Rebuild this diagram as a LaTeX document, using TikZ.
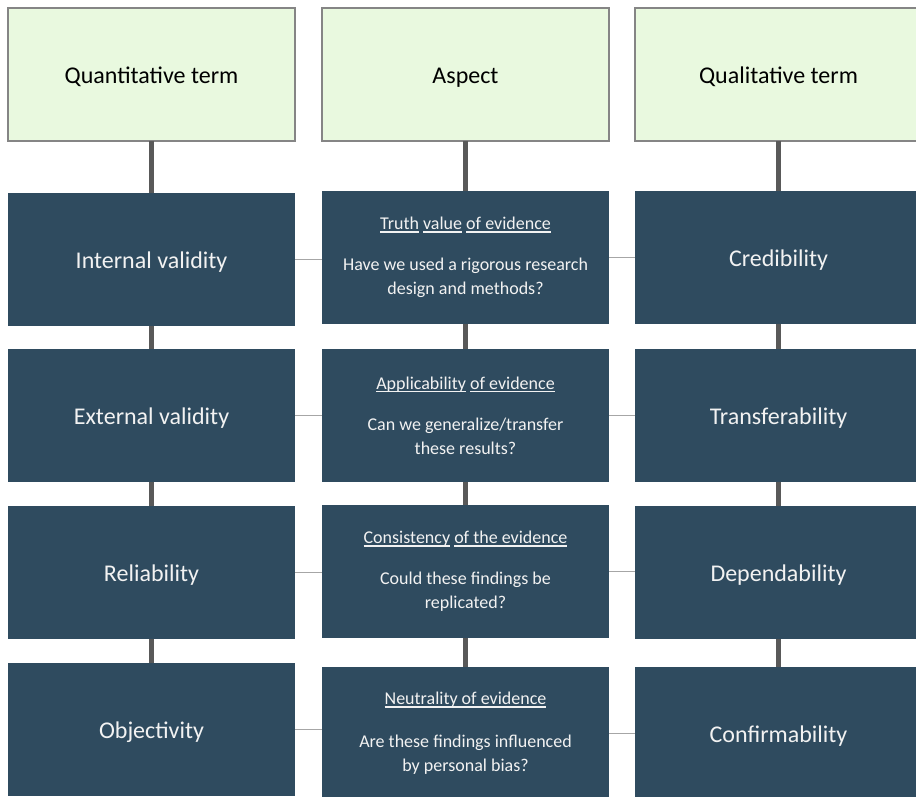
\documentclass[tikz,border=0pt]{standalone}
\usepackage{fontspec}
\setmainfont{Carlito}

\definecolor{headfill}{HTML}{E9F9DF}
\definecolor{headborder}{HTML}{858585}
\definecolor{boxblue}{HTML}{2F4B5F}
\definecolor{boxtext}{HTML}{F2F2F2}
\definecolor{stemgray}{HTML}{595959}
\definecolor{linkgray}{HTML}{A6A6A6}

% underline with a fixed offset, independent of descenders
\newcommand{\ulword}[1]{\setbox0\hbox{#1}\rlap{\rule[-2.8pt]{\wd0}{1.2pt}}\box0\relax}

\tikzset{
  cell/.style={minimum width=287pt, minimum height=133pt,
    inner sep=0pt, outer sep=0pt},
  headbox/.style={cell, draw=headborder, line width=2pt, fill=headfill,
    font=\fontsize{24}{29}\selectfont, text=black,
    text height=18pt, text depth=0pt},
  termbox/.style={cell, fill=boxblue,
    font=\fontsize{24}{29}\selectfont, text=boxtext,
    text height=18pt, text depth=0pt},
  aspectbox/.style={cell, fill=boxblue, text=boxtext,
    font=\fontsize{18}{24}\selectfont, align=center},
  stem/.style={draw=stemgray, line width=5pt},
  link/.style={draw=linkgray, line width=1.5pt},
}

\begin{document}
\begin{tikzpicture}[x=1pt, y=-1pt]
\useasboundingbox (0,0) rectangle (916,796);
\clip (0,0) rectangle (916,796);

% column headers
\node[headbox] (hq) at (151.5,74.5) {Quantitative term};
\node[headbox] (ha) at (465.5,74.5) {Aspect};
\node[headbox] (hc) at (778.5,74.5) {Qualitative term};

% quantitative terms
\node[termbox] (q1) at (151.5,259.5) {Internal validity};
\node[termbox] (q2) at (151.5,415.5) {External validity};
\node[termbox] (q3) at (151.5,572.5) {Reliability};
\node[termbox] (q4) at (151.5,729.5) {Objectivity};

% aspects
\node[aspectbox] (a1) at (465.5,257.5)
  {\ulword{Truth} \ulword{value} \ulword{of evidence}\\[17pt]
   Have we used a rigorous research\\ design and methods?};
\node[aspectbox] (a2) at (465.5,415.5)
  {\ulword{Applicability} \ulword{of evidence}\\[17pt]
   Can we generalize/transfer\\ these results?};
\node[aspectbox] (a3) at (465.5,571.5)
  {\ulword{Consistency} \ulword{of the evidence}\\[17pt]
   Could these findings be\\ replicated?};
\node[aspectbox] (a4) at (465.5,733.5)
  {\ulword{Neutrality of evidence}\\[19pt]
   Are these findings influenced\\ by personal bias?};

% qualitative terms
\node[termbox] (c1) at (778.5,257.5) {Credibility};
\node[termbox] (c2) at (778.5,415.5) {Transferability};
\node[termbox] (c3) at (778.5,572.5) {Dependability};
\node[termbox] (c4) at (778.5,733.5) {Confirmability};

% vertical stems in each column
\foreach \col in {q,a,c}{
  \draw[stem] (h\col.south) -- (\col1.north);
  \draw[stem] (\col1.south) -- (\col2.north);
  \draw[stem] (\col2.south) -- (\col3.north);
  \draw[stem] (\col3.south) -- (\col4.north);
}

% thin links across each row
\foreach \r in {1,2,3,4}{
  \draw[link] (q\r.east) -- (q\r.east -| a\r.west);
  \draw[link] (a\r.east) -- (a\r.east -| c\r.west);
}
\end{tikzpicture}
\end{document}
